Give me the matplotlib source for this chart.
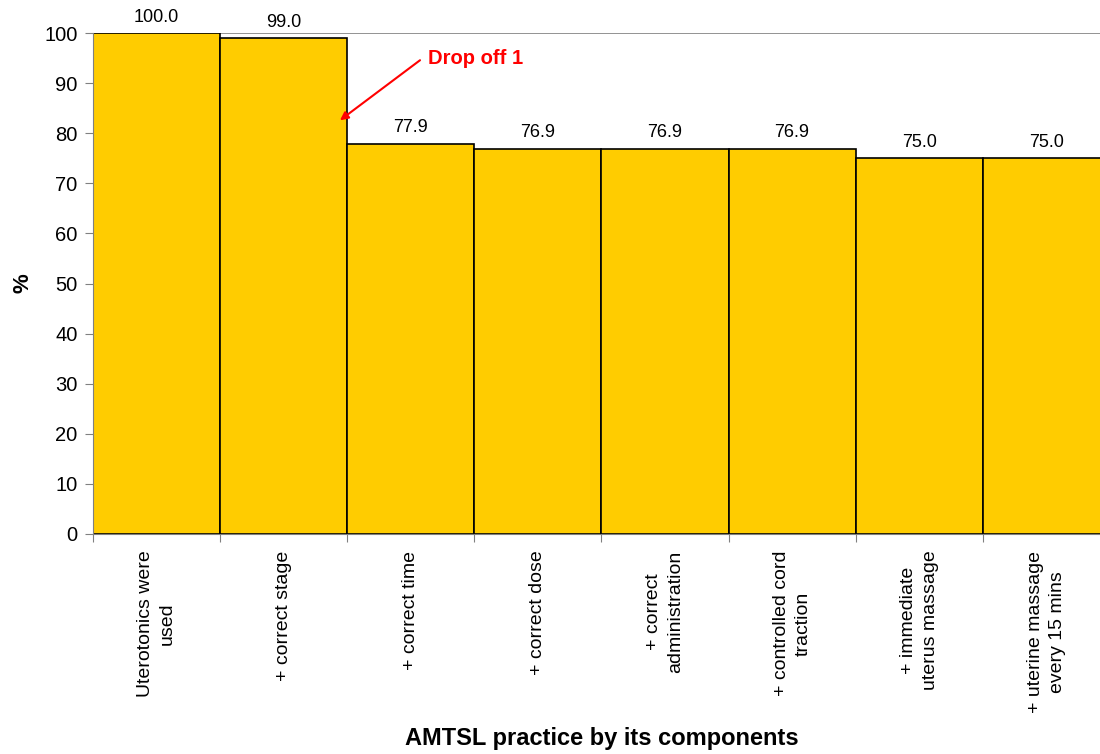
import matplotlib
matplotlib.use("Agg")
import matplotlib.pyplot as plt
import numpy as np

plt.rcParams['font.family'] = ['Liberation Sans', 'DejaVu Sans']

categories = ["Uterotonics were\nused", "+ correct stage", "+ correct time",
              "+ correct dose", "+ correct\nadministration",
              "+ controlled cord\ntraction", "+ immediate\nuterus massage",
              "+ uterine massage\nevery 15 mins"]
values = [100.0, 99.0, 77.9, 76.9, 76.9, 76.9, 75.0, 75.0]

fig = plt.figure(figsize=(11, 7.54), dpi=100)
# right edge runs slightly past the figure, last bar is clipped
ax = fig.add_axes([0.0845, 0.2918, 0.9245, 0.6642])

x = np.arange(len(values))
ax.bar(x, values, width=1.0, color="#FFCC00", edgecolor="black", linewidth=1.2, zorder=2)

for xi, v in zip(x, values):
    ax.text(xi, v + 1.5, "%.1f" % v, ha="center", va="bottom", fontsize=13)

ax.set_xlim(-0.5, len(values) - 0.5)
ax.set_ylim(0, 100)
ax.set_yticks(range(0, 101, 10))
ax.axhline(100, color="#808080", linewidth=1.2, zorder=1)

ax.set_xticks(np.arange(len(values) + 1) - 0.5)
ax.set_xticklabels([])
ax.set_xticks(x, minor=True)
ax.set_xticklabels(categories, minor=True, rotation=90, ha="center", va="top",
                   fontsize=14, multialignment="center", linespacing=1.4)
ax.tick_params(axis="x", which="minor", length=0, pad=12)
ax.tick_params(axis="x", which="major", length=6, color="#808080")
ax.tick_params(axis="y", length=6, color="#808080", labelsize=14.5, pad=5)

for s in ["top", "right"]:
    ax.spines[s].set_visible(False)
ax.spines["left"].set_color("#808080")
ax.spines["bottom"].set_color("#808080")

ax.set_ylabel("%", fontsize=16, fontweight="bold")
ax.yaxis.set_label_coords(-0.058, 0.5)
ax.set_xlabel("AMTSL practice by its components", fontsize=17, fontweight="bold")
ax.xaxis.set_label_coords(0.5, -0.385)

# arrow + label marking the first drop
ax.annotate("", xy=(1.443, 82.6), xytext=(2.073, 94.6),
            arrowprops=dict(arrowstyle="-|>", color="red", lw=1.5, shrinkA=0,
                            shrinkB=0, mutation_scale=12), zorder=5)
ax.text(2.136, 95.0, "Drop off 1", color="red", fontsize=14.5, fontweight="bold",
        ha="left", va="center", zorder=5)

fig.savefig("out.png", dpi=100)
